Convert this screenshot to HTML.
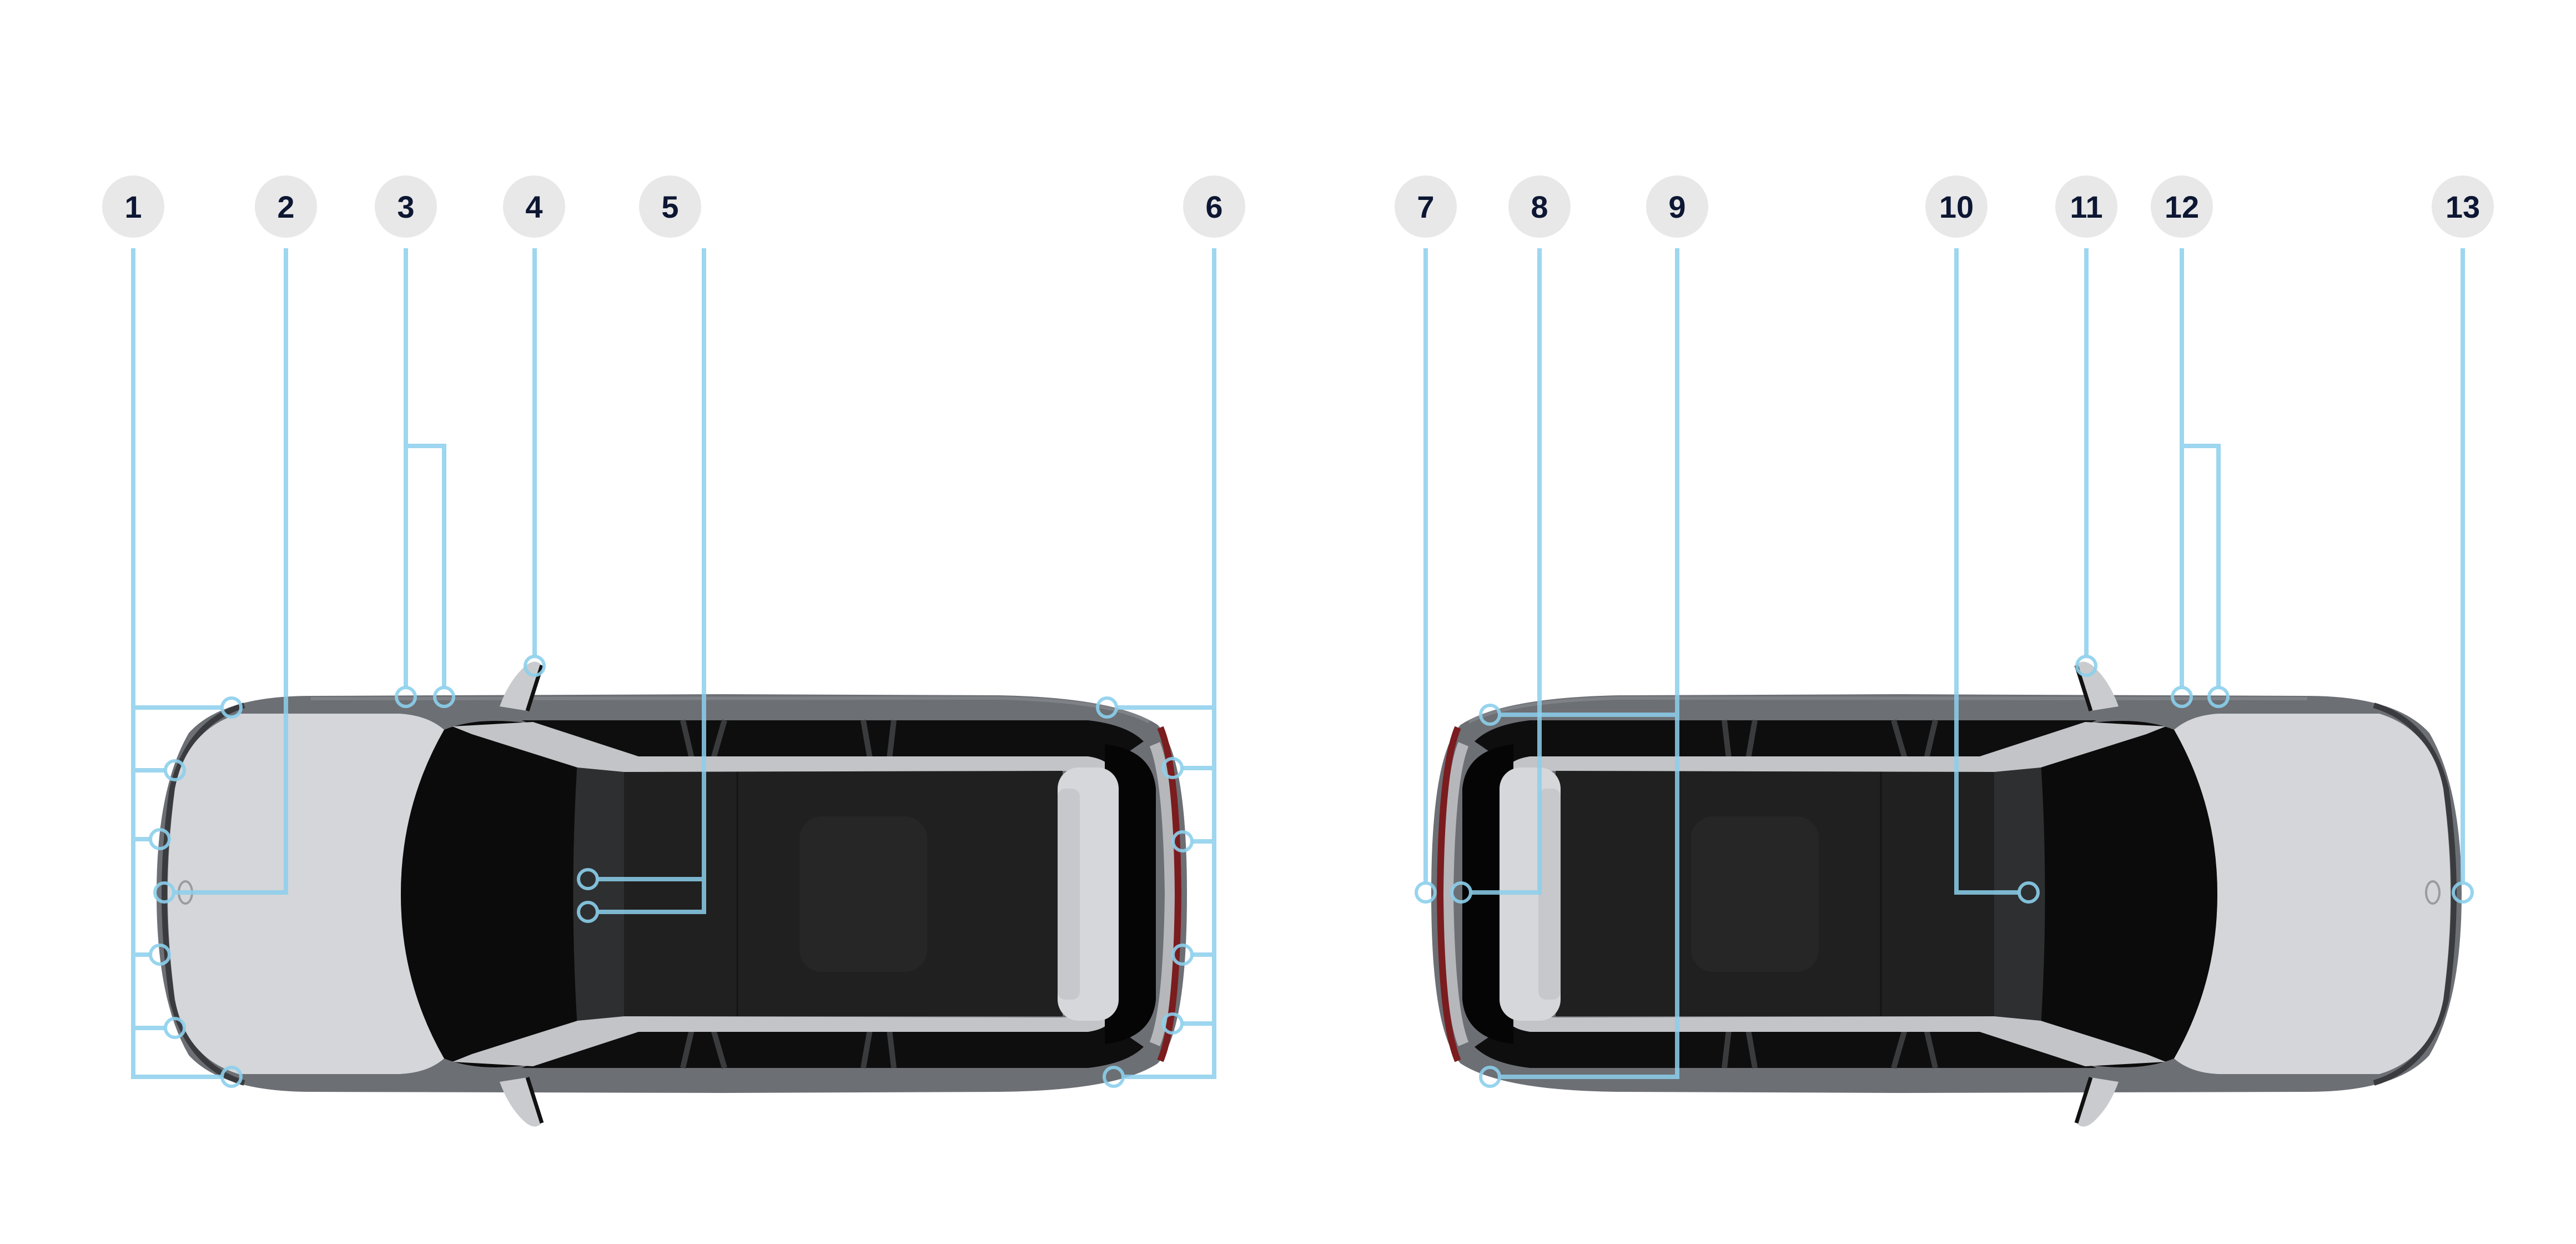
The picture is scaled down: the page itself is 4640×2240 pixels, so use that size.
<!DOCTYPE html>
<html><head><meta charset="utf-8"><style>
html,body{margin:0;padding:0;background:#fff;}
svg{display:block;}
</style></head><body>
<svg width="4640" height="2240" viewBox="0 0 4640 2240" xmlns="http://www.w3.org/2000/svg">
<defs>
<g id="car">
  <path d="M560 1253 L1300 1250 L1800 1252 Q2010 1256 2085 1305 Q2138 1360 2138 1610 Q2138 1860 2085 1915 Q2010 1964 1800 1966 L1300 1968 L560 1966 Q400 1966 340 1900 Q282 1800 282 1610 Q282 1420 340 1320 Q400 1253 560 1253 Z" fill="#6c6f74"/>
  <path d="M560 1258 L1800 1257 Q2000 1262 2070 1300" fill="none" stroke="#7e8186" stroke-width="6"/>
  <path d="M440 1270 Q340 1300 310 1420 Q296 1520 296 1610 Q296 1700 310 1800 Q340 1920 440 1950" fill="none" stroke="#3a3b3e" stroke-width="10"/>
  <path d="M430 1285 L720 1285 Q770 1288 800 1314 Q722 1450 722 1610 Q722 1770 800 1906 Q770 1932 720 1934 L430 1934 Q335 1905 315 1800 Q302 1700 302 1610 Q302 1520 315 1420 Q335 1315 430 1285 Z" fill="#d4d6d9"/>
  <ellipse cx="334" cy="1607" rx="12" ry="20" fill="none" stroke="#9a9b9e" stroke-width="4"/>
  <path d="M940 1297 L1960 1297 Q2030 1305 2060 1335 L1990 1383 L1130 1383 Z" fill="#0e0e0f"/>
  <path d="M940 1923 L1960 1923 Q2030 1915 2060 1885 L1990 1837 L1130 1837 Z" fill="#0e0e0f"/>
  <path d="M1230 1297 L1250 1383 M1305 1297 L1280 1383 M1555 1297 L1570 1383 M1610 1297 L1600 1383 M1230 1923 L1250 1837 M1305 1923 L1280 1837 M1555 1923 L1570 1837 M1610 1923 L1600 1837" stroke="#3a3b3d" stroke-width="10"/>
  <path d="M800 1314 Q860 1290 950 1302 L1060 1362 L1060 1858 L950 1918 Q860 1930 800 1906 Q722 1770 722 1610 Q722 1450 800 1314 Z" fill="#0b0b0b"/>
  <path d="M1040 1370 L1130 1383 Q1120 1610 1130 1837 L1040 1850 Q1025 1610 1040 1370 Z" fill="#2e2f31"/>
  <rect x="1124" y="1386" width="790" height="444" fill="#202020"/>
  <line x1="1328" y1="1386" x2="1328" y2="1830" stroke="#151515" stroke-width="3"/>
  <rect x="1440" y="1470" width="230" height="280" rx="40" fill="#262626"/>
  <path d="M815 1308 L960 1300 L1150 1362 L1960 1362 Q2000 1368 2005 1392 L1911 1388 L1124 1390 L1040 1382 L850 1322 Z" fill="#c2c4c7"/>
  <path d="M815 1912 L960 1920 L1150 1858 L1960 1858 Q2000 1852 2005 1828 L1911 1832 L1124 1830 L1040 1838 L850 1898 Z" fill="#c2c4c7"/>
  <path d="M1990 1340 Q2075 1350 2082 1420 L2082 1800 Q2075 1870 1990 1880 Z" fill="#050505"/>
  <rect x="1905" y="1382" width="110" height="456" rx="38" fill="#d5d7da"/>
  <rect x="1905" y="1420" width="40" height="380" rx="14" fill="#c6c8cb"/>
  <path d="M2080 1340 Q2105 1400 2108 1610 Q2105 1820 2080 1880" fill="none" stroke="#b5b7ba" stroke-width="20"/>
  <path d="M2090 1310 Q2120 1380 2122 1610 Q2120 1840 2090 1910" fill="none" stroke="#7b1c1f" stroke-width="12"/>
  <path d="M900 1272 Q915 1230 940 1205 Q962 1182 976 1198 L950 1280 Z" fill="#c9cbce"/>
  <path d="M976 1198 L950 1280" stroke="#111" stroke-width="7"/>
  <path d="M900 1948 Q915 1990 940 2015 Q962 2038 976 2022 L950 1940 Z" fill="#c9cbce"/>
  <path d="M976 2022 L950 1940" stroke="#111" stroke-width="7"/>
</g>
</defs>
<use href="#car"/>
<use href="#car" transform="translate(4716,0) scale(-1,1)"/>

<g fill="none" stroke="#8ccfec" stroke-opacity="0.85" stroke-width="8">
  <path d="M240 447 V1939 H398 M240 1274 H398 M240 1387 H296 M240 1511 H269 M240 1719 H269 M240 1851 H296"/>
  <path d="M515 447 V1607 H315"/>
  <path d="M731 447 V1236 M731 803 H800 V1236"/>
  <path d="M963 447 V1180"/>
  <path d="M1268 447 V1642 H1078 M1268 1583 H1078"/>
  <path d="M2187 447 V1939 H2025 M2187 1274 H2013 M2187 1383 H2131 M2187 1515 H2149 M2187 1719 H2149 M2187 1843 H2131"/>
  <path d="M2568 447 V1588"/>
  <path d="M2773 447 V1607 H2651"/>
  <path d="M3021 447 V1939 H2703 M3021 1287 H2703"/>
  <path d="M3524 447 V1607 H3635"/>
  <path d="M3758 447 V1180"/>
  <path d="M3930 447 V1236 M3930 803 H3996 V1236"/>
  <path d="M4436 447 V1588"/>
</g>
<g fill="none" stroke="#8ccfec" stroke-opacity="0.9" stroke-width="6">
  <circle cx="417" cy="1274" r="17"/><circle cx="315" cy="1387" r="17"/><circle cx="288" cy="1511" r="17"/>
  <circle cx="296" cy="1607" r="17"/><circle cx="288" cy="1719" r="17"/><circle cx="315" cy="1851" r="17"/><circle cx="417" cy="1939" r="17"/>
  <circle cx="731" cy="1255" r="17"/><circle cx="800" cy="1255" r="17"/><circle cx="963" cy="1199" r="17"/>
  <circle cx="1059" cy="1583" r="17"/><circle cx="1059" cy="1642" r="17"/>
  <circle cx="1994" cy="1274" r="17"/><circle cx="2112" cy="1383" r="17"/><circle cx="2130" cy="1515" r="17"/>
  <circle cx="2130" cy="1719" r="17"/><circle cx="2112" cy="1843" r="17"/><circle cx="2006" cy="1939" r="17"/>
  <circle cx="2568" cy="1607" r="17"/><circle cx="2632" cy="1607" r="17"/>
  <circle cx="2684" cy="1287" r="17"/><circle cx="2684" cy="1939" r="17"/>
  <circle cx="3654" cy="1607" r="17"/><circle cx="3758" cy="1199" r="17"/>
  <circle cx="3930" cy="1255" r="17"/><circle cx="3996" cy="1255" r="17"/><circle cx="4436" cy="1607" r="17"/>
</g>

<g fill="#e8e8e8">
  <circle cx="240" cy="372" r="56"/><circle cx="515" cy="372" r="56"/><circle cx="731" cy="372" r="56"/>
  <circle cx="962" cy="372" r="56"/><circle cx="1207" cy="372" r="56"/><circle cx="2187" cy="372" r="56"/>
  <circle cx="2568" cy="372" r="56"/><circle cx="2773" cy="372" r="56"/><circle cx="3021" cy="372" r="56"/>
  <circle cx="3524" cy="372" r="56"/><circle cx="3758" cy="372" r="56"/><circle cx="3930" cy="372" r="56"/>
  <circle cx="4436" cy="372" r="56"/>
</g>
<g font-family="Liberation Sans, Arial, sans-serif" font-weight="bold" font-size="56" fill="#0d1733" text-anchor="middle">
  <text x="240" y="392">1</text><text x="515" y="392">2</text><text x="731" y="392">3</text>
  <text x="962" y="392">4</text><text x="1207" y="392">5</text><text x="2187" y="392">6</text>
  <text x="2568" y="392">7</text><text x="2773" y="392">8</text><text x="3021" y="392">9</text>
  <text x="3524" y="392">10</text><text x="3758" y="392">11</text><text x="3930" y="392">12</text>
  <text x="4436" y="392">13</text>
</g>
</svg>
</body></html>
